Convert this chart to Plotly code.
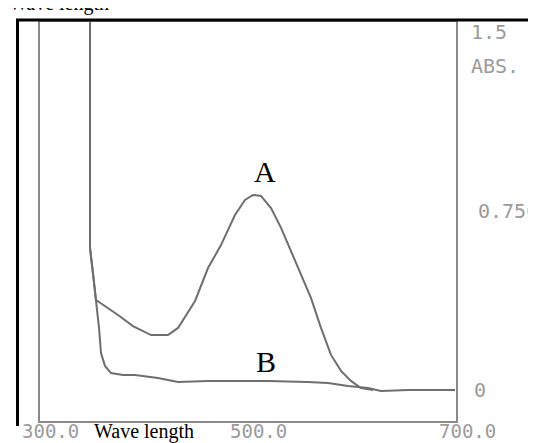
import plotly.graph_objects as go

W, H = 536, 443

# ---- data ----
wl_A = [338.3, 338.3, 341.1, 344.0, 365.1, 379.4, 396.7, 412.9, 422.5, 438.8, 451.2,
        463.6, 477.0, 486.6, 494.3, 501.9, 511.5, 521.1, 530.6, 540.2, 549.8, 559.3,
        568.9, 578.5, 588.0, 597.6, 609.1]
abs_A = [1.70, 0.595, 0.490, 0.377, 0.314, 0.268, 0.230, 0.230, 0.260, 0.373, 0.511,
         0.607, 0.733, 0.796, 0.817, 0.813, 0.762, 0.679, 0.582, 0.482, 0.385, 0.260,
         0.147, 0.080, 0.038, 0.008, 0.0]

wl_B = [338.3, 338.3, 341.1, 344.0, 346.9, 348.8, 352.6, 358.4, 369.9, 381.3, 403.3,
        422.5, 451.2, 489.5, 508.6, 546.9, 566.0, 585.2, 604.3, 616.7, 642.6, 687.6]
abs_B = [1.70, 0.595, 0.490, 0.377, 0.260, 0.155, 0.101, 0.071, 0.063, 0.063, 0.050,
         0.034, 0.038, 0.038, 0.038, 0.034, 0.029, 0.017, 0.008, -0.004, 0.0, 0.0]

x_ticks = [300, 500, 700]
x_tick_labels = ["300.0", "500.0", "700.0"]
y_ticks = [0, 0.75, 1.5]
y_tick_labels = ["0", "0.750", "1.5"]
y_unit_label = "ABS."
x_title = "Wave length"
curve_labels = ["A", "B"]

# ---- axis geometry (pixels) ----
X_LEFT, X_RIGHT = 32, 448      # plot box
Y_TOP, Y_BOTTOM = 14, 413
X_RANGE = [290.43, 688.52]
Y_RANGE = [-0.1299, 1.5417]


def px(x):
    return x / W


def py(y):
    return 1 - y / H


def xval_to_paper(v):
    # same linear scale as the x axis, in paper units (700 lies just past the drawn range)
    frac = (v - X_RANGE[0]) / (X_RANGE[1] - X_RANGE[0])
    return px(X_LEFT + frac * (X_RIGHT - X_LEFT))


fig = go.Figure()
line_col = "#6e6e6e"
fig.add_trace(go.Scatter(x=wl_A, y=abs_A, mode="lines",
                         line=dict(color=line_col, width=2), showlegend=False))
fig.add_trace(go.Scatter(x=wl_B, y=abs_B, mode="lines",
                         line=dict(color=line_col, width=2), showlegend=False))

mono = dict(family="DejaVu Sans Mono", size=20, color="#9a9a9a")
mono_x = dict(family="DejaVu Sans Mono", size=19, color="#9a9a9a")
serif = dict(family="Liberation Serif", size=20, color="#000000")

ann = []
# x tick labels
for v, t in zip(x_ticks, x_tick_labels):
    ann.append(dict(x=xval_to_paper(v), xref="paper", y=py(423), yref="paper", text=t,
                    showarrow=False, xanchor="center", yanchor="middle", font=mono_x))
# y tick labels on right
y_left = {"0": 464, "0.750": 468, "1.5": 461}
for v, t in zip(y_ticks, y_tick_labels):
    ann.append(dict(x=px(y_left[t]), xref="paper", y=v, yref="y", text=t, showarrow=False,
                    xanchor="left", yanchor="middle", font=mono))
ann.append(dict(x=px(461), xref="paper", y=py(58), yref="paper", text=y_unit_label,
                showarrow=False, xanchor="left", yanchor="middle", font=mono))
# x title
ann.append(dict(x=px(84), xref="paper", y=py(423), yref="paper", text=x_title,
                showarrow=False, xanchor="left", yanchor="middle", font=serif))
# cut-off caption fragment at top
ann.append(dict(x=px(-1), xref="paper", y=py(-4.5), yref="paper", text=x_title,
                showarrow=False, xanchor="left", yanchor="middle", font=serif))
# curve labels
ann.append(dict(x=px(257), xref="paper", y=py(163), yref="paper", text=curve_labels[0],
                showarrow=False, xanchor="center", yanchor="middle",
                font=dict(family="Liberation Serif", size=30, color="#000")))
ann.append(dict(x=px(258), xref="paper", y=py(353), yref="paper", text=curve_labels[1],
                showarrow=False, xanchor="center", yanchor="middle",
                font=dict(family="Liberation Serif", size=30, color="#000")))

shapes = [
    dict(type="line", xref="paper", yref="paper", x0=px(8), x1=px(540), y0=py(12), y1=py(12),
         line=dict(color="#000", width=3)),
    dict(type="line", xref="paper", yref="paper", x0=px(9.5), x1=px(9.5), y0=py(11), y1=py(418),
         line=dict(color="#000", width=3)),
]

fig.update_layout(
    width=W, height=H, margin=dict(l=0, r=0, t=0, b=0),
    paper_bgcolor="white", plot_bgcolor="white",
    xaxis=dict(domain=[px(X_LEFT), px(X_RIGHT)], range=X_RANGE, showgrid=False,
               zeroline=False, showticklabels=False, ticks="",
               showline=True, mirror=True, linecolor="#8a8a8a", linewidth=1.5),
    yaxis=dict(domain=[py(Y_BOTTOM), py(Y_TOP)], range=Y_RANGE, showgrid=False,
               zeroline=False, showticklabels=False, ticks="",
               showline=True, mirror=True, linecolor="#8a8a8a", linewidth=1.5),
    annotations=ann, shapes=shapes,
)

fig.write_html("out.html")
